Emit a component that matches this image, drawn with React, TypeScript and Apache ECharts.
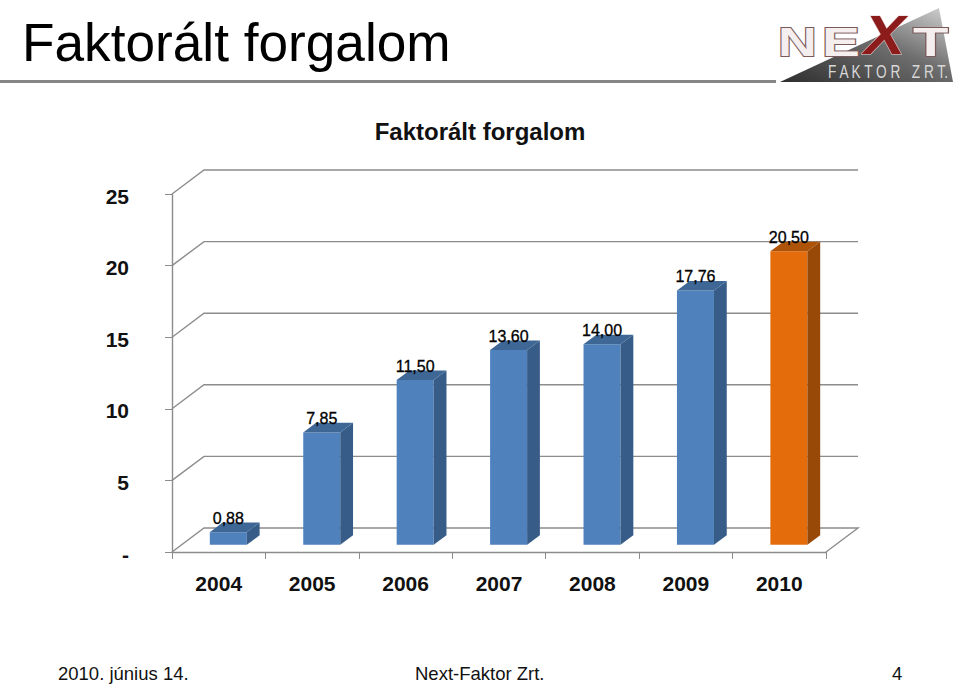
import React, { useEffect, useRef } from "react";
import * as echarts from "echarts";

const years = ["2004", "2005", "2006", "2007", "2008", "2009", "2010"];
const values = [0.88, 7.85, 11.5, 13.6, 14.0, 17.76, 20.5];
const valueLabels = ["0,88", "7,85", "11,50", "13,60", "14,00", "17,76", "20,50"];
const yTicks = [0, 5, 10, 15, 20, 25];
const highlightedYear = "2010";

const FONT = '"Liberation Sans", Arial, sans-serif';
const AXIS = "#8c8c8c";
const BLUE = { front: "#4F81BD", side: "#375C88", top: "#3E6796" };
const ORANGE = { front: "#E46C0A", side: "#984807", top: "#AE5408" };
// oblique projection of the plot
const DEPTH = { x: 32, y: -24 };
const BAR_START = 0.3;
const BAR_DEPTH = 0.4;
const BAR_WIDTH = 37;

function renderWall(params: any, api: any) {
  const sys = params.coordSys;
  const p = api.coord([0, api.value(1)]);
  const y = p[1];
  const x0 = sys.x;
  const x1 = sys.x + sys.width;
  const pts =
    api.value(1) === 0
      ? [[x0, y], [x0 + DEPTH.x, y + DEPTH.y], [x1 + DEPTH.x, y + DEPTH.y], [x1, y]]
      : [[x0, y], [x0 + DEPTH.x, y + DEPTH.y], [x1 + DEPTH.x, y + DEPTH.y]];
  return {
    type: "polyline",
    shape: { points: pts },
    style: { stroke: AXIS, lineWidth: 1.4, fill: "none" },
  };
}

function renderBar(params: any, api: any) {
  const i = api.value(0);
  const c = years[i] === highlightedYear ? ORANGE : BLUE;
  const top = api.coord([i, api.value(1)]);
  const base = api.coord([i, 0]);
  const ox = DEPTH.x * BAR_START;
  const oy = DEPTH.y * BAR_START;
  const l = top[0] + ox - BAR_WIDTH / 2;
  const r = l + BAR_WIDTH;
  const t = top[1] + oy;
  const b = base[1] + oy;
  const dx = DEPTH.x * BAR_DEPTH;
  const dy = DEPTH.y * BAR_DEPTH;
  return {
    type: "group",
    children: [
      { type: "polygon", shape: { points: [[l, t], [r, t], [r, b], [l, b]] }, style: { fill: c.front } },
      { type: "polygon", shape: { points: [[r, t], [r + dx, t + dy], [r + dx, b + dy], [r, b]] }, style: { fill: c.side } },
      { type: "polygon", shape: { points: [[l, t], [l + dx, t + dy], [r + dx, t + dy], [r, t]] }, style: { fill: c.top } },
      {
        type: "text",
        x: (l + r) / 2,
        y: t - 14,
        style: {
          text: valueLabels[i],
          fill: "#000",
          stroke: "#000",
          lineWidth: 0.3,
          font: `16px ${FONT}`,
          align: "center",
          verticalAlign: "middle",
        },
      },
    ],
  };
}

export default function App() {
  const ref = useRef<HTMLDivElement>(null);
  useEffect(() => {
    const chart = echarts.init(ref.current!, null, { renderer: "svg" });
    chart.setOption({
      animation: false,
      backgroundColor: "#fff",
      textStyle: { fontFamily: FONT },
      title: [
        {
          text: "Faktorált forgalom",
          left: 17,
          top: 11,
          textStyle: { fontSize: 53.2, fontWeight: "normal", color: "#000", fontFamily: FONT },
        },
        {
          text: "Faktorált forgalom",
          left: 475,
          top: 114,
          textAlign: "center",
          textStyle: { fontSize: 24, fontWeight: "bold", color: "#111", fontFamily: FONT },
        },
      ],
      grid: { left: 172, right: 134, top: 194, bottom: 132 },
      xAxis: {
        type: "category",
        data: years,
        axisLine: { lineStyle: { color: AXIS, width: 1.4 } },
        axisTick: { show: true, length: 7, lineStyle: { color: AXIS }, alignWithLabel: false },
        axisLabel: { color: "#111", fontSize: 21, fontWeight: "bold", margin: 21, fontFamily: FONT },
      },
      yAxis: {
        type: "value",
        min: 0,
        max: 25,
        interval: 5,
        axisLine: { show: true, lineStyle: { color: AXIS, width: 1.4 } },
        axisTick: { show: true, length: 7, lineStyle: { color: AXIS } },
        splitLine: { show: false },
        axisLabel: {
          color: "#111",
          fontSize: 21,
          fontWeight: "bold",
          margin: 43,
          verticalAlign: "top",
          lineHeight: 4,
          fontFamily: FONT,
          formatter: (v: number) => (v === 0 ? "-" : String(v)),
        },
      },
      series: [
        {
          type: "custom",
          name: "walls",
          coordinateSystem: "cartesian2d",
          clip: false,
          silent: true,
          z: 1,
          encode: { x: 0, y: 1 },
          data: yTicks.map((v) => [0, v]),
          renderItem: renderWall,
        },
        {
          type: "custom",
          name: "Faktorált forgalom",
          coordinateSystem: "cartesian2d",
          clip: false,
          z: 3,
          encode: { x: 0, y: 1 },
          data: values.map((v, i) => [i, v]),
          renderItem: renderBar,
        },
      ],
      graphic: [
        { type: "rect", shape: { x: 0, y: 80, width: 776, height: 3 }, style: { fill: "#868686" } },
        {
          type: "polygon",
          shape: { points: [[780, 82], [939, 8], [953, 82]] },
          style: {
            fill: new echarts.graphic.LinearGradient(0, 1, 1, 0, [
              { offset: 0, color: "#2e2e2e" },
              { offset: 0.55, color: "#6e6e6e" },
              { offset: 1, color: "#d4d4d4" },
            ]),
          },
        },
        ...[
          { t: "N", x: 778, w: 1.34 },
          { t: "E", x: 822, w: 1.42 },
          { t: "T", x: 913, w: 1.45 },
        ].map((o) => ({
          type: "text",
          x: o.x,
          y: 22,
          scaleX: o.w,
          style: {
            text: o.t,
            font: `bold 40px ${FONT}`,
            fill: "#f4eeee",
            stroke: "#7c5a5a",
            lineWidth: 1.8,
            verticalAlign: "top",
          },
        })),
        {
          type: "text",
          x: 864,
          y: 6,
          scaleX: 1.1,
          style: {
            text: "X",
            font: `italic bold 56px ${FONT}`,
            fill: "#8c1c1c",
            stroke: "#e8d0d0",
            lineWidth: 1,
            verticalAlign: "top",
          },
        },
        {
          type: "text",
          x: 828,
          y: 63,
          scaleX: 0.76,
          style: { text: "F A K T O R   Z R T.", font: `18px ${FONT}`, fill: "#d8d8d8", verticalAlign: "top" },
        },
        { type: "text", x: 58, y: 664, style: { text: "2010. június 14.", font: `18.5px ${FONT}`, fill: "#111" } },
        { type: "text", x: 415, y: 664, style: { text: "Next-Faktor Zrt.", font: `18.5px ${FONT}`, fill: "#111" } },
        { type: "text", x: 892, y: 664, style: { text: "4", font: `18.5px ${FONT}`, fill: "#111" } },
      ],
    });
    return () => chart.dispose();
  }, []);
  return <div ref={ref} style={{ position: "absolute", left: 0, top: 0, width: 960, height: 684 }} />;
}
